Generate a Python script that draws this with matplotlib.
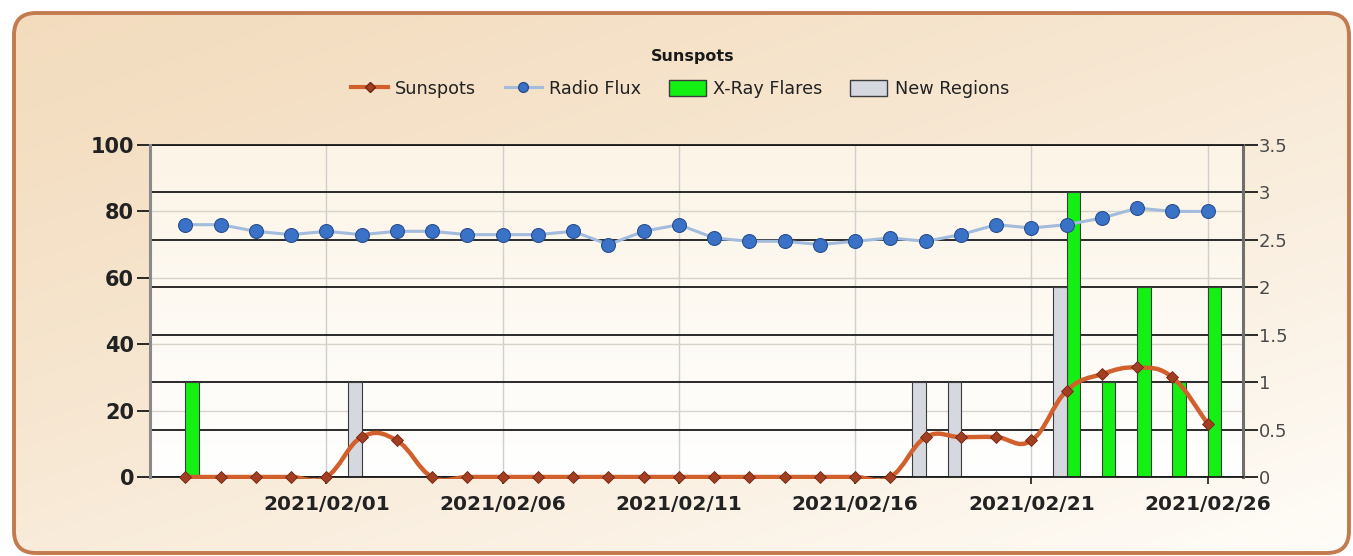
import matplotlib
matplotlib.use("Agg")
import matplotlib.pyplot as plt
import matplotlib.dates as mdates
import numpy as np
import pandas as pd
from matplotlib.lines import Line2D
from matplotlib.patches import FancyBboxPatch, Patch, PathPatch, Rectangle
from matplotlib.path import Path
from matplotlib.ticker import FixedLocator

# ---- data ----
days = pd.date_range("2021-01-28", "2021-02-26", freq="D")
sunspots = [0, 0, 0, 0, 0, 12, 11, 0, 0, 0, 0, 0, 0, 0, 0, 0, 0, 0, 0, 0,
            0, 12, 12, 12, 11, 26, 31, 33, 30, 16]
radio_flux = [76, 76, 74, 73, 74, 73, 74, 74, 73, 73, 73, 74, 70, 74, 76,
              72, 71, 71, 70, 71, 72, 71, 73, 76, 75, 76, 78, 81, 80, 80]
xray_flares = [1, 0, 0, 0, 0, 0, 0, 0, 0, 0, 0, 0, 0, 0, 0, 0, 0, 0, 0, 0,
               0, 0, 0, 0, 0, 3, 1, 2, 1, 2]
new_regions = [0, 0, 0, 0, 0, 1, 0, 0, 0, 0, 0, 0, 0, 0, 0, 0, 0, 0, 0, 0,
               0, 1, 1, 0, 0, 2, 0, 0, 0, 0]

W, H = 1353, 556
fig = plt.figure(figsize=(W / 100, H / 100), dpi=100)
fig.patch.set_facecolor("white")

# ---- rounded frame with gradient fill ----
ax_bg = fig.add_axes([0, 0, 1, 1])
ax_bg.set_xlim(0, W)
ax_bg.set_ylim(H, 0)
ax_bg.axis("off")
gx, gy = np.meshgrid(np.linspace(0, 1, 300), np.linspace(0, 1, 150))
t = np.clip(0.45 * gx + 0.55 * gy, 0, 1) ** 1.3
c0 = np.array([243, 220, 190]) / 255
c1 = np.array([255, 253, 249]) / 255
grad = c0 + (c1 - c0) * t[..., None]
im = ax_bg.imshow(grad, extent=(0, W, H, 0), aspect="auto", interpolation="bilinear")
frame = FancyBboxPatch((14, 13), 1335, 540, boxstyle="round,pad=0,rounding_size=22",
                       facecolor="none", edgecolor="#c27a4e", lw=2.8)
ax_bg.add_patch(frame)
im.set_clip_path(frame)

# ---- plot area ----
ax = fig.add_axes([150 / W, 79 / H, 1093 / W, 332 / H])
ax2 = ax.twinx()

x = mdates.date2num(days)
x_lo = mdates.date2num(pd.Timestamp("2021-01-27"))
x_hi = mdates.date2num(pd.Timestamp("2021-02-27"))

# plot area background (cream at top to white at bottom)
vg = np.linspace(0, 1, 100)[:, None, None]
top = np.array([252, 244, 230]) / 255
bot = np.array([255, 255, 255]) / 255
pgrad = top + (bot - top) * vg
ax.imshow(pgrad, extent=(0, 1, 0, 1), transform=ax.transAxes, aspect="auto", zorder=-5)
ax.patch.set_visible(False)
ax.set_xlim(x_lo, x_hi)
ax.set_ylim(0, 3.5)
ax2.set_ylim(0, 100)

# grids (all under the bars)
ax.set_axisbelow(True)
ax.yaxis.set_major_locator(FixedLocator(np.arange(0, 3.51, 0.5)))
ax.yaxis.set_minor_locator(FixedLocator(np.arange(20, 100, 20) * 3.5 / 100))
ax.grid(axis="y", which="major", color="#1a1a1a", lw=1.3)
ax.grid(axis="y", which="minor", color="#d8d4cc", lw=1.0)
ax.grid(axis="x", which="major", color="#cfcfcf", lw=1.0)
ax.xaxis.set_major_locator(mdates.DayLocator(bymonthday=[1, 6, 11, 16, 21, 26]))
ax.xaxis.set_major_formatter(mdates.DateFormatter("%Y/%m/%d"))

# bars (right axis)
bw = 0.38
xr = np.array(xray_flares)
nr = np.array(new_regions)
ax.bar(x[xr > 0], xr[xr > 0], width=bw, align="edge", color="#14ef14",
       edgecolor="#3c3c3c", lw=0.8, zorder=2)
ax.bar(x[nr > 0], nr[nr > 0], width=-bw, align="edge", color="#d5d8df",
       edgecolor="#3c3c3c", lw=0.8, zorder=2)

# radio flux line (left axis)
ax2.plot(x, radio_flux, color="#a3bbdc", lw=2.2, marker="o", markersize=10,
         markerfacecolor="#3a72c8", markeredgecolor="#2a4f8e", markeredgewidth=0.8,
         zorder=3, clip_on=False)

# sunspots as a smooth spline through the points
pts = np.column_stack([x, sunspots]).astype(float)
ext = np.vstack([pts[0], pts, pts[-1]])
k = 0.2
verts = [pts[0]]
codes = [Path.MOVETO]
for i in range(len(pts) - 1):
    p0, p1, p2, p3 = ext[i], ext[i + 1], ext[i + 2], ext[i + 3]
    verts += [p1 + k * (p2 - p0), p2 - k * (p3 - p1), p2]
    codes += [Path.CURVE4] * 3
spline = PathPatch(Path(verts, codes), facecolor="none", edgecolor="#d2602c",
                   lw=3.2, capstyle="round", joinstyle="round", zorder=4)
ax2.add_patch(spline)
spline.set_clip_path(Rectangle((-0.01, -0.007), 1.02, 1.01, transform=ax2.transAxes))
ax2.plot(x, sunspots, linestyle="none", marker="D", markersize=6,
         markerfacecolor="#a23e22", markeredgecolor="#6e2512", markeredgewidth=0.6,
         zorder=5, clip_on=False)

# axes styling
ax.yaxis.tick_right()
ax2.yaxis.tick_left()
ax2.yaxis.set_major_locator(FixedLocator(np.arange(0, 101, 20)))

ax.spines["left"].set_visible(False)
ax.spines["right"].set_color("#6f6f6f")
ax.spines["right"].set_linewidth(2.2)
ax.spines["top"].set_color("#1a1a1a")
ax.spines["top"].set_linewidth(1.3)
ax.spines["bottom"].set_color("#1a1a1a")
ax.spines["bottom"].set_linewidth(1.3)
for s in ["right", "top", "bottom"]:
    ax2.spines[s].set_visible(False)
ax2.spines["left"].set_color("#8a8a8a")
ax2.spines["left"].set_linewidth(2.2)

ax.tick_params(axis="y", which="major", length=10.5, width=1.3, color="#1a1a1a",
               pad=1, labelsize=13, labelcolor="#4a4a4a")
ax.tick_params(axis="y", which="minor", length=0)
ax.tick_params(axis="x", length=5, width=1.2, color="#1a1a1a", pad=8,
               labelsize=14.5, labelcolor="#222222")
for lbl in ax.get_xticklabels():
    lbl.set_fontweight("bold")
ax.set_yticklabels(["0", "0.5", "1", "1.5", "2", "2.5", "3", "3.5"])

ax2.tick_params(axis="y", length=9.5, width=1.3, color="#1a1a1a", pad=2,
                labelsize=15, labelcolor="#222222")
for lbl in ax2.get_yticklabels():
    lbl.set_fontweight("bold")

# title and legend
fig.text(693 / W, 1 - 57 / H, "Sunspots", ha="center", va="center",
         fontsize=11.5, fontweight="bold", color="#1a1a1a")
handles = [
    Line2D([], [], color="#d2602c", lw=3, marker="D", markersize=5,
           markerfacecolor="#a23e22", markeredgecolor="#6e2512"),
    Line2D([], [], color="#a3bbdc", lw=2.2, marker="o", markersize=7,
           markerfacecolor="#3a72c8", markeredgecolor="#2a4f8e"),
    Patch(facecolor="#14ef14", edgecolor="#3c3c3c"),
    Patch(facecolor="#d5d8df", edgecolor="#3c3c3c"),
]
labels = ["Sunspots", "Radio Flux", "X-Ray Flares", "New Regions"]
leg = fig.legend(handles, labels, loc="center", bbox_to_anchor=(680 / W, 1 - 89 / H),
                 ncol=4, frameon=False, fontsize=12.7, handlelength=2.1, handleheight=1.0,
                 handletextpad=0.4, columnspacing=1.6)
for txt in leg.get_texts():
    txt.set_color("#222222")

fig.savefig("out.png", dpi=100)
